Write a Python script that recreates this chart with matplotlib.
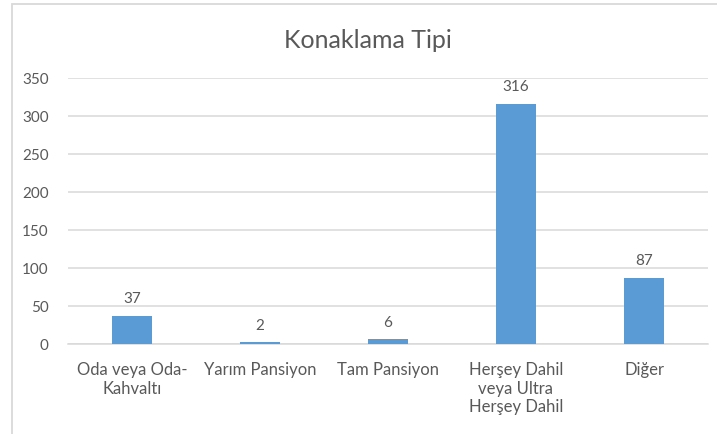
import matplotlib
matplotlib.use('Agg')
import matplotlib.pyplot as plt
from matplotlib.patches import Rectangle

# data
categories = ['Oda veya Oda-\nKahvaltı', 'Yarım Pansiyon', 'Tam Pansiyon',
              'Herşey Dahil\nveya Ultra\nHerşey Dahil', 'Diğer']
counts = [37, 2, 6, 316, 87]
yticks = [0, 50, 100, 150, 200, 250, 300, 350]

plt.rcParams['font.family'] = ['Lato', 'DejaVu Sans']
text_color = '#595959'
bar_color = '#5B9BD5'
grid_color = '#D9D9D9'

W, H = 717, 434
fig = plt.figure(figsize=(W / 100, H / 100), dpi=100)

# chart area border (cut off on right and bottom like the screenshot)
fig.patches.append(Rectangle((12 / W, -0.1), 1.2, (H - 4) / H + 0.1,
                             transform=fig.transFigure, fill=False,
                             edgecolor=grid_color, linewidth=1.3))

ax = fig.add_axes([68 / W, (H - 344) / H, 640 / W, 266 / H])
x = range(len(categories))
bars = ax.bar(x, counts, width=0.31, color=bar_color, zorder=3)

ax.set_xlim(-0.5, len(categories) - 0.5)
ax.set_ylim(0, 350)
ax.set_yticks(yticks)
ax.set_yticklabels([str(t) for t in yticks], fontsize=11, color=text_color)
ax.set_xticks(list(x))
ax.set_xticklabels(categories, fontsize=12, color=text_color, linespacing=1.2)
ax.tick_params(axis='both', length=0)
ax.tick_params(axis='y', pad=14)
ax.tick_params(axis='x', pad=13)

ax.grid(axis='y', color=grid_color, linewidth=1.1, zorder=0)
for side in ['top', 'right', 'left']:
    ax.spines[side].set_visible(False)
ax.spines['bottom'].set_color(grid_color)
ax.spines['bottom'].set_linewidth(1.1)

for rect, v in zip(bars, counts):
    ax.annotate(str(v), (rect.get_x() + rect.get_width() / 2, v),
                xytext=(0, 7), textcoords='offset points',
                ha='center', va='bottom', fontsize=11, color=text_color)

fig.text(368 / W, (H - 40) / H, 'Konaklama Tipi', ha='center', va='center',
         fontsize=18, color=text_color)

fig.savefig('out.png', dpi=100)
